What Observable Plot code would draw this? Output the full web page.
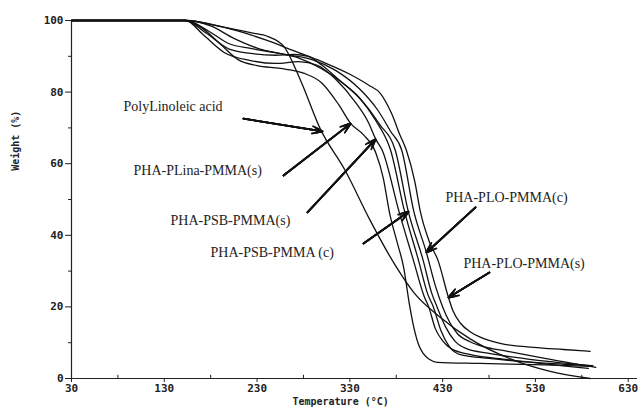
<!DOCTYPE html>
<html><head><meta charset="utf-8">
<script src="https://cdn.jsdelivr.net/npm/d3@7"></script>
<script src="https://cdn.jsdelivr.net/npm/@observablehq/plot@0.6"></script>
<style>body{margin:0;background:#fff}</style>
</head><body><div id="chart"></div>
<script>
// Axis ticks
const xTicks = [30, 130, 230, 330, 430, 530, 630];
const xMinor = [80, 180, 280, 380, 480, 580];
const yTicks = [0, 20, 40, 60, 80, 100];
const yMinor = [10, 30, 50, 70, 90];
const xLabel = "Temperature (°C)";
const yLabel = "Weight (%)";

// Series: [temperature °C, weight %]
const polyLinoleic = [[30,100],[153,100],[191,98.3],[223,96.6],[242,95.5],[259,92.7],[277,83.2],[298,69.8],[325,58.1],[352,44.1],[379,31.6],[399,24.0],[428,17.0],[460,11.0],[503,5.5],[546,2.0],[589,0]];
const plinaS = [[30,100],[153,100],[170,98],[190,93.5],[210,89],[230,87.4],[255,86.6],[280,85.3],[300,82.5],[318,76.5],[331,71.2],[345,68],[358,63],[366,56],[373,46],[381,38],[388,31],[394,21],[399,14.2],[404,9.5],[409,7.0],[416,5.3],[424,4.5],[470,4.2],[540,3.8],[590,3.4]];
const psbS = [[30,100],[153,100],[172,96],[195,91],[223,88.8],[250,88],[275,88.5],[295,87.5],[315,83.5],[335,77.5],[350,71.5],[358,66.8],[365,63.7],[383,46.6],[398.5,33],[410,23],[415,20],[422,14],[430,10.5],[440,8.2],[460,6.7],[500,5.3],[587,2.8]];
const unlabeled = [[30,100],[153,100],[175,96.5],[200,92],[223,90.8],[250,90.3],[270,90.5],[285,90],[300,87.5],[320,83],[340,78.5],[358,72],[374,63.7],[389,46.6],[404,33],[414,23.5],[420,20],[428,13.5],[437,9],[450,6.6],[480,5.6],[540,4.3],[592,3.6]];
const psbC = [[30,100],[153,100],[178,97],[200,93.5],[223,92.2],[250,91],[275,89.5],[300,86.5],[325,82],[345,77],[362,71],[379,63.7],[393,46.6],[409,33],[418,24],[424,20],[433,14.5],[443,10.5],[455,8.4],[480,7.0],[520,5.5],[589,3.6]];
const ploC = [[30,100],[153,100],[180,98.5],[205,95],[230,92.3],[260,90.5],[290,89],[315,86],[340,81],[360,75],[374,69],[386,63.7],[399,46.6],[412.5,35.2],[422,26],[430,20],[438,15.5],[446,12.5],[460,10.2],[474,8.9],[500,7.6],[540,5.6],[595,3.1]];
const ploS = [[30,100],[153,100],[180,99],[210,97],[240,94.5],[270,91.5],[300,88.5],[330,85],[350,82],[363,79.6],[375,74],[384,68],[391,63.7],[400,55],[406,46.6],[416,38],[425,33],[436.3,22.6],[441,19],[449,15.5],[460,13],[471,11.5],[492,9.8],[528,8.7],[560,8.1],[589,7.6]];

const seriesNames = ["PolyLinoleic acid","PHA-PLina-PMMA(s)","PHA-PSB-PMMA(s)","unlabeled","PHA-PSB-PMMA (c)","PHA-PLO-PMMA(c)","PHA-PLO-PMMA(s)"];
const seriesPts = [polyLinoleic, plinaS, psbS, unlabeled, psbC, ploC, ploS];
const lineData = seriesPts.flatMap((pts, i) => pts.map(([t, w]) => ({name: seriesNames[i], t, w})));

// Annotations
const labelText = ["PolyLinoleic acid","PHA-PLina-PMMA(s)","PHA-PSB-PMMA(s)","PHA-PSB-PMMA (c)","PHA-PLO-PMMA(c)","PHA-PLO-PMMA(s)"];
const labelT = [86, 96.8, 136.7, 179.8, 433, 452.4];
const labelW = [76.0, 58.1, 44.1, 35.2, 50.6, 32.1];
const arrowT1 = [215.3, 258.5, 284.3, 344.7, 465.4, 480.4];
const arrowW1 = [72.6, 56.7, 46.4, 37.7, 47.8, 29.6];
const arrowT2 = [300.5, 330.7, 357.6, 393.2, 412.5, 436.3];
const arrowW2 = [69.0, 71.2, 66.8, 46.6, 35.2, 22.6];

const labels = labelText.map((s, i) => ({s, t: labelT[i], w: labelW[i]}));
const arrows = arrowT1.map((t1, i) => ({t1, w1: arrowW1[i], t2: arrowT2[i], w2: arrowW2[i]}));

const headMarks = [9, 7, 5, 3].map(h => Plot.arrow(arrows, {x1: "t1", y1: "w1", x2: "t2", y2: "w2", stroke: "#111", strokeWidth: 1.8, headLength: h, headAngle: 40}));

const chart = Plot.plot({
  width: 640, height: 412,
  marginLeft: 71, marginRight: 3, marginTop: 20, marginBottom: 34,
  x: {domain: [30, 640]},
  y: {domain: [0, 100]},
  style: {fontFamily: "DejaVu Sans Mono", fontSize: "11px", fontWeight: "bold", color: "#222", background: "#fff"},
  marks: [
    Plot.ruleY([0], {stroke: "#222", strokeWidth: 1.2}),
    Plot.ruleX([30], {y1: 0, y2: 100, stroke: "#222", strokeWidth: 1.2}),
    Plot.axisY({ticks: yTicks, tickSize: 6, tickPadding: 2, label: null, stroke: "#222"}),
    Plot.axisY({ticks: yMinor, tickSize: 3, tickFormat: () => "", label: null, stroke: "#222"}),
    Plot.axisX({ticks: xTicks, tickSize: 4, tickPadding: 2, label: null, stroke: "#222"}),
    Plot.ruleX(xMinor, {y1: 0, y2: 0.9, stroke: "#222"}),
    Plot.line(lineData, {x: "t", y: "w", z: "name", curve: "monotone-x", stroke: "#111", strokeWidth: 1.3}),
    ...headMarks,
    Plot.text(labels, {x: "t", y: "w", text: "s", textAnchor: "start", fontFamily: "Liberation Serif", fontSize: 14, fontWeight: "normal", fill: "#222"}),
    Plot.text([yLabel], {frameAnchor: "left", y: 58, dx: -56, rotate: -90, fontSize: 10, fill: "#222"}),
    Plot.text([xLabel], {x: 320, frameAnchor: "bottom", dy: 26, fontSize: 10, fill: "#222"})
  ]
});
document.getElementById("chart").appendChild(chart);
</script>
</body></html>
